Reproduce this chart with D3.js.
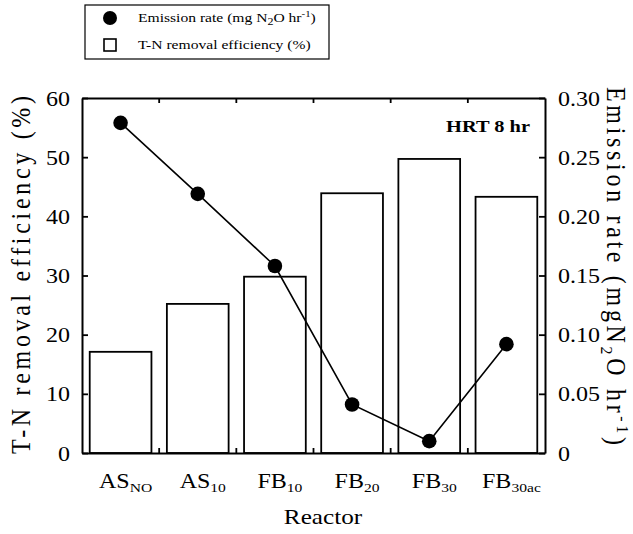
<!DOCTYPE html>
<html><head><meta charset="utf-8">
<script src="https://cdn.jsdelivr.net/npm/d3@7"></script>
<style>body{margin:0;background:#fff}svg{display:block}svg text{font-family:"Liberation Serif","Times New Roman",serif;fill:#000}</style>
</head><body><svg id="c" width="633" height="534" font-family="Liberation Serif"></svg>
<script>
const categories = [["AS","NO"],["AS","10"],["FB","10"],["FB","20"],["FB","30"],["FB","30ac"]];
const removalEfficiency = [17.1, 25.2, 29.8, 43.9, 49.7, 43.3];
const emissionRate = [0.279, 0.219, 0.158, 0.041, 0.010, 0.092];
const leftTicks = [0,10,20,30,40,50,60];
const rightTicks = [0,0.05,0.10,0.15,0.20,0.25,0.30];
const rightTickLabels = ["0","0.05","0.10","0.15","0.20","0.25","0.30"];

const svg = d3.select("#c");
const L=82, R=545, T=98, B=453;
const SX = 1.2; // horizontal stretch of the scanned lettering
const x = d3.scaleBand().domain(categories.map((d,i)=>i)).range([L,R]).paddingInner(0).paddingOuter(0);
const yL = d3.scaleLinear().domain([0,60]).range([B,T]);
const yR = d3.scaleLinear().domain([0,0.30]).range([B,T]);
const bw = x.bandwidth()*0.8;

// bars
svg.append("g").selectAll("rect").data(removalEfficiency).join("rect")
  .attr("x",(d,i)=>x(i)+x.bandwidth()/2-bw/2).attr("width",bw)
  .attr("y",d=>yL(d)).attr("height",d=>B-yL(d))
  .attr("fill","#fff").attr("stroke","#000").attr("stroke-width",1.8);

// axes
const gl = svg.append("g").attr("transform",`translate(${L},0)`)
  .call(d3.axisLeft(yL).tickValues(leftTicks).tickSizeInner(-6).tickSizeOuter(0).tickPadding(0).tickFormat(d3.format("d")));
const gr = svg.append("g").attr("transform",`translate(${R},0)`)
  .call(d3.axisRight(yR).tickValues(rightTicks).tickSizeInner(-6).tickSizeOuter(0).tickPadding(0).tickFormat((d,i)=>rightTickLabels[i]));
const gb = svg.append("g").attr("transform",`translate(0,${B})`)
  .call(d3.axisBottom(x).tickSizeInner(0).tickSizeOuter(0).tickFormat(""));
const gt = svg.append("g").attr("transform",`translate(0,${T})`)
  .call(d3.axisTop(x).tickSizeInner(0).tickSizeOuter(0).tickFormat(""));
[gl,gr,gb,gt].forEach(g=>{g.attr("font-family",null);
  g.selectAll(".domain").attr("stroke","#000").attr("stroke-width",2);
  g.selectAll(".tick line").attr("stroke","#000").attr("stroke-width",1.8);});
gl.selectAll(".tick text").attr("x",null).attr("dy",null).attr("font-size",20)
  .attr("transform","translate(-12,7) scale("+SX+",1)");
gr.selectAll(".tick text").attr("x",null).attr("dy",null).attr("font-size",20)
  .attr("transform","translate(13,7) scale("+SX+",1)");
gb.selectAll(".tick").remove(); gt.selectAll(".tick").remove();
// boundary ticks top & bottom (between categories)
d3.range(1,categories.length).forEach(i=>{
  const xx = x(i);
  svg.append("line").attr("x1",xx).attr("x2",xx).attr("y1",B).attr("y2",B-5).attr("stroke","#000").attr("stroke-width",1.8);
  svg.append("line").attr("x1",xx).attr("x2",xx).attr("y1",T).attr("y2",T+5).attr("stroke","#000").attr("stroke-width",1.8);
});

// category labels
const cl = svg.append("g").selectAll("text").data(categories).join("text")
  .attr("transform",(d,i)=>`translate(${x(i)+x.bandwidth()/2+5},488) scale(${SX},1)`)
  .attr("text-anchor","middle").attr("font-size",20);
cl.append("tspan").text(d=>d[0]);
cl.append("tspan").attr("dy",4).attr("font-size",13).text(d=>d[1]);

// line + points
const line = d3.line().x((d,i)=>x(i)+x.bandwidth()/2).y(d=>yR(d));
svg.append("path").datum(emissionRate).attr("d",line).attr("fill","none").attr("stroke","#000").attr("stroke-width",1.6);
svg.append("g").selectAll("circle").data(emissionRate).join("circle")
  .attr("cx",(d,i)=>x(i)+x.bandwidth()/2).attr("cy",d=>yR(d)).attr("r",7.3).attr("fill","#000");

// axis titles
svg.append("text").attr("transform",`translate(30,275) rotate(-90) scale(1,1.1)`).attr("text-anchor","middle")
  .attr("font-size",24).attr("textLength",358).attr("lengthAdjust","spacing").text("T-N removal efficiency (%)");
const rt = svg.append("text").attr("transform",`translate(607,266) rotate(90) scale(1,1.1)`).attr("text-anchor","middle")
  .attr("font-size",24).attr("textLength",358).attr("lengthAdjust","spacing");
rt.append("tspan").text("Emission rate (mgN");
rt.append("tspan").attr("dy",5).attr("font-size",16).text("2");
rt.append("tspan").attr("dy",-5).text("O hr");
rt.append("tspan").attr("dy",-9).attr("font-size",16).text("-1");
rt.append("tspan").attr("dy",9).text(")");
svg.append("text").attr("transform",`translate(323,524) scale(${SX},1)`).attr("text-anchor","middle")
  .attr("font-size",21).text("Reactor");

// annotation
svg.append("text").attr("transform",`translate(530,132) scale(${SX},1)`).attr("text-anchor","end")
  .attr("font-size",17).attr("font-weight","bold").text("HRT 8 hr");

// legend
const lg = svg.append("g");
lg.append("rect").attr("x",85).attr("y",5).attr("width",244).attr("height",54).attr("fill","#fff").attr("stroke","#000").attr("stroke-width",1.2);
lg.append("circle").attr("cx",110).attr("cy",18).attr("r",7).attr("fill","#000");
lg.append("rect").attr("x",104).attr("y",39).attr("width",12).attr("height",12).attr("fill","#fff").attr("stroke","#000").attr("stroke-width",1.6);
const t1 = lg.append("text").attr("transform",`translate(138,22) scale(${SX},1)`).attr("font-size",13);
t1.append("tspan").text("Emission rate (mg N");
t1.append("tspan").attr("dy",3).attr("font-size",10).text("2");
t1.append("tspan").attr("dy",-3).text("O hr");
t1.append("tspan").attr("dy",-5).attr("font-size",9).text("-1");
t1.append("tspan").attr("dy",5).text(")");
lg.append("text").attr("transform",`translate(138,49) scale(${SX},1)`).attr("font-size",13).text("T-N removal efficiency (%)");
svg.selectAll("text").attr("font-family","Liberation Serif");
</script></body></html>
